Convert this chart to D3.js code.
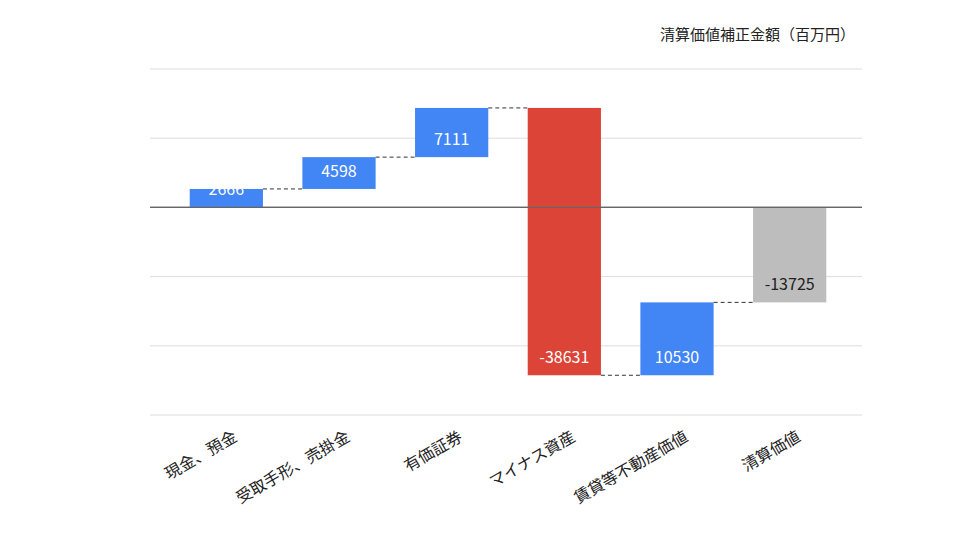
<!DOCTYPE html>
<html><head><meta charset="utf-8">
<script src="https://cdn.jsdelivr.net/npm/d3@7"></script>
<style>body{margin:0;background:#fff;font-family:"Noto Sans CJK JP","Noto Sans",sans-serif;}</style>
</head><body><div id="chart"></div>
<script>
/* Waterfall: 清算価値補正金額 */
const categories = ["現金、預金", "受取手形、売掛金", "有価証券", "マイナス資産", "賃貸等不動産価値", "清算価値"];
const values = [2666, 4598, 7111, -38631, 10530, -13725];
const isTotal = [false, false, false, false, false, true];
const yTicks = [-30000, -20000, -10000, 0, 10000, 20000];

const width = 960, height = 540;
const svg = d3.select("#chart").append("svg")
    .attr("width", width).attr("height", height);

// build start/end of each step
let run = 0;
const steps = categories.map((c, i) => {
    let s, e;
    if (isTotal[i]) { s = 0; e = values[i]; }
    else { s = run; e = run + values[i]; run = e; }
    return {cat: c, v: values[i], start: s, end: e, total: isTotal[i]};
});

const x = d3.scaleBand().domain(categories).range([170, 846])
    .paddingInner(0.35).paddingOuter(0.175);
const y = d3.scaleLinear().domain([-30000, 20000]).range([415, 69]);

// grid
svg.append("g").selectAll("line").data(yTicks).join("line")
    .attr("x1", 150).attr("x2", 862)
    .attr("y1", d => y(d)).attr("y2", d => y(d))
    .attr("stroke", d => d === 0 ? "#666" : "#ddd")
    .attr("stroke-width", d => d === 0 ? 1.2 : 1);

const color = d => d.total ? "#bdbdbd" : (d.v < 0 ? "#db4437" : "#4285f4");

svg.append("g").selectAll("rect").data(steps).join("rect")
    .attr("x", d => x(d.cat))
    .attr("width", x.bandwidth())
    .attr("y", d => y(Math.max(d.start, d.end)))
    .attr("height", d => Math.abs(y(d.start) - y(d.end)))
    .attr("fill", color);

// zero line above bars
svg.append("line").attr("x1", 150).attr("x2", 862)
    .attr("y1", y(0)).attr("y2", y(0)).attr("stroke", "#666").attr("stroke-width", 1.2);

// connectors
svg.append("g").selectAll("line").data(steps.slice(0, -1)).join("line")
    .attr("x1", d => x(d.cat) + x.bandwidth())
    .attr("x2", (d, i) => x(steps[i + 1].cat))
    .attr("y1", d => y(d.end)).attr("y2", d => y(d.end))
    .attr("stroke", "#333").attr("stroke-dasharray", "4,3");

// value labels
svg.append("g").selectAll("text").data(steps).join("text")
    .attr("x", d => x(d.cat) + x.bandwidth() / 2)
    .attr("y", d => y(Math.min(d.start, d.end)) - 18)
    .attr("dy", "0.35em")
    .attr("text-anchor", "middle")
    .attr("font-size", 16)
    .attr("fill", d => d.total ? "#222" : "#fff")
    .text(d => d.v);

// category labels
svg.append("g").selectAll("text").data(categories).join("text")
    .attr("text-anchor", "end")
    .attr("font-size", 16).attr("fill", "#222")
    .attr("transform", d => `translate(${x(d) + x.bandwidth() / 2 + 12},440) rotate(-30)`)
    .text(d => d);

svg.append("text").attr("x", 855).attr("y", 40)
    .attr("text-anchor", "end").attr("font-size", 15).attr("fill", "#222")
    .text("清算価値補正金額（百万円）");
</script></body></html>
